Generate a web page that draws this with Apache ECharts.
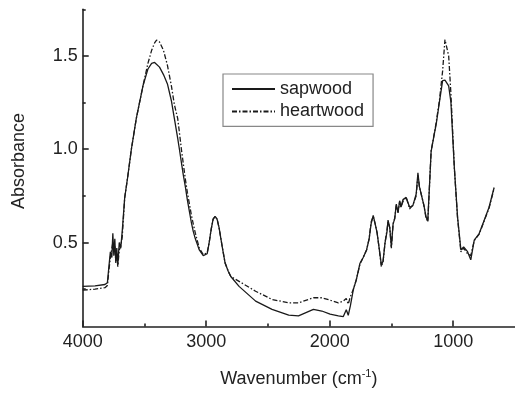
<!DOCTYPE html>
<html>
<head>
<meta charset="utf-8">
<script src="https://cdn.jsdelivr.net/npm/echarts@6/dist/echarts.min.js"></script>
<style>html,body{margin:0;padding:0;background:#fff}#c{width:515px;height:393px}</style>
</head>
<body>
<div id="c"></div>
<script>
var wavenumber = [4000,3900,3820,3800,3788,3776,3764,3756,3748,3740,3732,3724,3716,3704,3692,3680,3660,3636,3606,3566,3512,3472,3442,3418,3402,3378,3346,3314,3282,3258,3231,3217,3201,3185,3169,3153,3137,3121,3105,3088,3072,3056,3024,3008,2992,2976,2960,2944,2928,2912,2896,2871,2847,2821,2801,2734,2600,2467,2332,2253,2132,2064,1997,1930,1890,1866,1850,1833,1809,1785,1755,1729,1702,1681,1665,1648,1632,1616,1600,1582,1568,1552,1536,1528,1514,1501,1487,1474,1461,1447,1434,1423,1407,1381,1353,1327,1300,1286,1274,1260,1238,1220,1206,1179,1152,1139,1112,1086,1067,1051,1037,1019,991,965,938,916,884,858,830,790,750,710,669];

var sapwood = [0.265,0.268,0.275,0.285,0.37,0.45,0.42,0.55,0.43,0.52,0.39,0.47,0.38,0.50,0.47,0.56,0.74,0.85,1.0,1.165,1.34,1.43,1.46,1.465,1.46,1.44,1.40,1.35,1.26,1.165,1.06,1.0,0.93,0.86,0.80,0.73,0.67,0.61,0.56,0.52,0.49,0.46,0.43,0.424,0.44,0.50,0.57,0.625,0.64,0.625,0.58,0.48,0.39,0.345,0.318,0.265,0.186,0.142,0.111,0.107,0.142,0.133,0.116,0.107,0.103,0.14,0.11,0.16,0.248,0.30,0.389,0.42,0.46,0.52,0.60,0.645,0.60,0.55,0.47,0.38,0.40,0.50,0.56,0.62,0.58,0.477,0.60,0.627,0.706,0.66,0.724,0.69,0.73,0.742,0.689,0.698,0.76,0.874,0.80,0.795,0.70,0.636,0.618,0.989,1.086,1.13,1.253,1.368,1.37,1.377,1.34,1.253,0.90,0.636,0.46,0.477,0.451,0.407,0.513,0.548,0.618,0.689,0.795];

var heartwood = [0.245,0.25,0.258,0.27,0.35,0.42,0.41,0.50,0.45,0.48,0.40,0.44,0.37,0.46,0.48,0.53,0.74,0.85,1.0,1.165,1.34,1.46,1.53,1.57,1.585,1.575,1.53,1.45,1.34,1.24,1.165,1.09,1.0,0.92,0.84,0.77,0.71,0.65,0.60,0.55,0.51,0.47,0.435,0.43,0.445,0.50,0.57,0.625,0.64,0.625,0.58,0.48,0.39,0.345,0.318,0.292,0.239,0.195,0.177,0.177,0.204,0.204,0.191,0.177,0.186,0.20,0.17,0.21,0.248,0.30,0.385,0.42,0.46,0.52,0.61,0.64,0.60,0.55,0.47,0.37,0.40,0.50,0.57,0.61,0.58,0.47,0.60,0.63,0.70,0.66,0.72,0.69,0.72,0.742,0.68,0.70,0.75,0.86,0.80,0.79,0.70,0.63,0.61,0.99,1.09,1.14,1.26,1.42,1.588,1.59,1.50,1.30,0.90,0.63,0.45,0.47,0.44,0.43,0.51,0.545,0.615,0.685,0.79];

var xMajorTicks = [4000,3000,2000,1000];
var xMinorTicks = [3500,2500,1500];
var yMajorTicks = [0.5,1.0,1.5];
var yMinorTicks = [0.25,0.75,1.25,1.75];

function pairs(xs, ys){ return xs.map(function(x,i){ return [x, ys[i]]; }); }

var axisColor = '#222';
var font = 'Liberation Sans, Arial, sans-serif';

var chart = echarts.init(document.getElementById('c'), null, {renderer:'canvas'});
chart.setOption({
  animation: false,
  backgroundColor: '#fff',
  grid: {left: 82.7, top: 9.3, bottom: 63, right: -3, containLabel: false},
  legend: {
    orient: 'vertical', left: 223, top: 74,
    padding: [6, 9, 6, 8], itemGap: 4.4, itemWidth: 43, itemHeight: 14,
    borderColor: '#888', borderWidth: 1.2,
    itemStyle: {opacity: 0},
    textStyle: {fontSize: 18, fontFamily: font, color: '#222', lineHeight: 18},
    data: ['sapwood', 'heartwood']
  },
  xAxis: [{
    type: 'value', min: 500, max: 4000, inverse: true, position: 'bottom',
    name: 'Wavenumber (cm{sup|-1})', nameLocation: 'middle', nameGap: 42,
    nameTextStyle: {fontSize: 18, fontFamily: font, color: '#222',
      rich: {sup: {fontSize: 11, fontFamily: font, color: '#222', verticalAlign: 'top', padding: [0,0,10,0]}}},
    splitLine: {show: false},
    axisLine: {show: true, onZero: false, lineStyle: {color: axisColor, width: 1.6}},
    axisTick: {show: true, inside: true, length: 6, customValues: xMajorTicks, lineStyle: {color: axisColor, width: 1.6}},
    axisLabel: {customValues: xMajorTicks, margin: 7, fontSize: 18, fontFamily: font, color: '#222',
      formatter: function(v){ return String(v); }}
  }, {
    type: 'value', min: 500, max: 4000, inverse: true, position: 'bottom', offset: 0,
    splitLine: {show: false},
    axisLine: {show: false},
    axisTick: {show: true, inside: true, length: 3, customValues: xMinorTicks, lineStyle: {color: axisColor, width: 1.6}},
    axisLabel: {show: false}
  }],
  yAxis: [{
    type: 'value', min: 0.05, max: 1.75, position: 'left',
    name: 'Absorbance', nameLocation: 'middle', nameGap: 55,
    nameTextStyle: {fontSize: 18, fontFamily: font, color: '#222', padding: [0,0,0,14]},
    splitLine: {show: false},
    axisLine: {show: true, onZero: false, lineStyle: {color: axisColor, width: 1.6}},
    axisTick: {show: true, inside: true, length: 6, customValues: yMajorTicks, lineStyle: {color: axisColor, width: 1.6}},
    axisLabel: {customValues: yMajorTicks, margin: 5, fontSize: 18, fontFamily: font, color: '#222',
      formatter: function(v){ return v.toFixed(1); }}
  }, {
    type: 'value', min: 0.05, max: 1.75, position: 'left', offset: 0,
    splitLine: {show: false},
    axisLine: {show: false},
    axisTick: {show: true, inside: true, length: 3, customValues: yMinorTicks, lineStyle: {color: axisColor, width: 1.6}},
    axisLabel: {show: false}
  }],
  series: [{
    name: 'sapwood', type: 'line', xAxisIndex: 0, yAxisIndex: 0,
    data: pairs(wavenumber, sapwood), symbol: 'none', showSymbol: false,
    lineStyle: {color: '#1a1a1a', width: 1.3, type: 'solid'},
    itemStyle: {color: '#1a1a1a'}
  }, {
    name: 'heartwood', type: 'line', xAxisIndex: 0, yAxisIndex: 0,
    data: pairs(wavenumber, heartwood), symbol: 'none', showSymbol: false,
    lineStyle: {color: '#1a1a1a', width: 1.3, type: [5, 2, 1.5, 2]},
    itemStyle: {color: '#1a1a1a'}
  }]
});
</script>
</body>
</html>
